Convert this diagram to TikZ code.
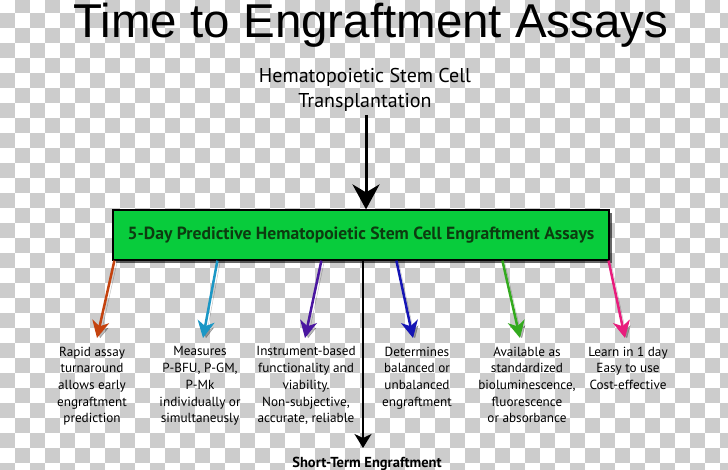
\documentclass[tikz,border=0pt]{standalone}
\usepackage{fontspec}
\setmainfont{PT Sans}
\newfontfamily\titlefont{Liberation Sans}
\usetikzlibrary{arrows.meta}

\definecolor{checkgray}{HTML}{CCCCCC}
\definecolor{assaygreen}{HTML}{08CC3C}
\definecolor{assaytext}{HTML}{0D3B10}
\definecolor{rapidcol}{HTML}{C4420E}
\definecolor{measurecol}{HTML}{1B97C5}
\definecolor{instrcol}{HTML}{4A16A0}
\definecolor{determcol}{HTML}{1414B4}
\definecolor{availcol}{HTML}{33AA1E}
\definecolor{learncol}{HTML}{E81C7C}

\tikzset{
	shadowed/.style={preaction={draw=black, opacity=0.28, transform canvas={shift={(2.5,2.5)}}}},
	featarrow/.style={line width=2.5pt, shadowed, -{Stealth[length=17pt, width=17pt, inset=5pt]}},
	feattext/.style={inner sep=0pt, anchor=north, align=center, font=\fontsize{13.2}{16.7}\selectfont},
}

\begin{document}
\begin{tikzpicture}[x=1pt, y=-1pt]
		\useasboundingbox (0,0) rectangle (728,470);

		\begin{scope}
			\clip (0,0) rectangle (728,470);
			\fill[white] (0,0) rectangle (728,470);
			\foreach \i in {0,...,48} {
				\foreach \j in {0,...,32} {
					\pgfmathtruncatemacro\cellodd{mod(\i+\j,2)}
					\ifnum\cellodd=1
						\fill[checkgray] (15*\i,15*\j-2) rectangle ++(15,15);
					\fi
				}
			}
		\end{scope}

		\node[inner sep=0pt, anchor=base] (title) at (371,38) {\titlefont\fontsize{47.5}{50}\selectfont Time to Engraftment Assays};

		\node[inner sep=0pt, anchor=north, align=center, font=\fontsize{20}{25}\selectfont] (hsct) at (365,68) {Hematopoietic Stem Cell\\Transplantation};

		\node[draw=black, line width=1.2pt, fill=assaygreen, minimum width=496, minimum height=50,
			  preaction={fill=black, opacity=0.6, transform canvas={shift={(3,3)}}},
			  font=\fontsize{17.6}{19}\selectfont\bfseries, text=assaytext] (assays) at (361,235) {5-Day Predictive Hematopoietic Stem Cell Engraftment Assays};

		\coordinate (hsctend) at (366,115);
		\draw[line width=3pt, -{Stealth[length=25pt, width=27pt, inset=8pt]}] (hsctend) -- (hsctend |- assays.north);

		\node[inner sep=0pt, anchor=base, font=\fontsize{14.5}{16}\selectfont\bfseries] (shortterm) at (367,467) {Short-Term Engraftment};
		\coordinate (stdown) at (363,260);
		\coordinate (sttip) at (363,448);
		\draw[line width=2pt, -{Stealth[length=14pt, width=17pt, inset=4pt]}] (stdown) -- (sttip);

		\node[feattext] (rapid) at (92,346.5) {Rapid assay\\turnaround\\allows early\\engraftment\\prediction};
		\node[feattext] (measures) at (200,346.5) {Measures\\P-BFU, P-GM,\\P-Mk\\individually or\\simultaneusly};
		\node[feattext] (instrument) at (306,346.5) {Instrument-based\\functionality and\\viability.\\Non-subjective,\\accurate, reliable};
		\node[feattext] (determines) at (417,346.5) {Determines\\balanced or\\unbalanced\\engraftment};
		\node[feattext] (available) at (527,346.5) {Available as\\standardized\\bioluminescence,\\fluorescence\\or absorbance};
		\node[feattext] (learn) at (628,346.5) {Learn in 1 day\\Easy to use\\Cost-effective};

		\coordinate (rapidtip) at (97,338);
		\coordinate (measurestip) at (203,338);
		\coordinate (instrumenttip) at (305,338);
		\coordinate (determinestip) at (413,338);
		\coordinate (availabletip) at (520,338);
		\coordinate (learntip) at (625,338);

		\draw[featarrow, rapidcol] (assays.south west) ++ (2,0) -- (rapidtip);
		\draw[featarrow, measurecol] (assays.south west) ++ (105,0) -- (measurestip);
		\draw[featarrow, instrcol] (assays.south west) ++ (209,0) -- (instrumenttip);
		\draw[featarrow, determcol] (assays.south west) ++ (284,0) -- (determinestip);
		\draw[featarrow, availcol] (assays.south west) ++ (390,0) -- (availabletip);
		\draw[featarrow, learncol] (assays.south east) ++ (-1,0) -- (learntip);

	\end{tikzpicture}
\end{document}
